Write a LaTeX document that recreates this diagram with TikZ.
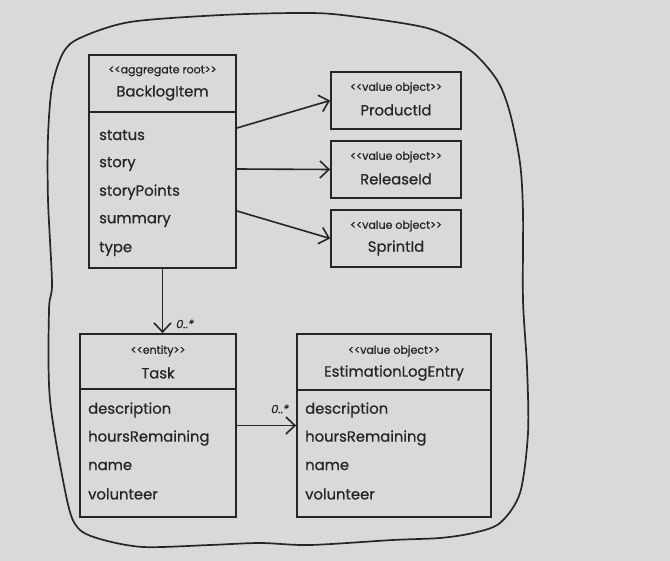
\documentclass[tikz,border=0pt]{standalone}
\usepackage{fontspec}
\setmainfont{Poppins}
\newfontfamily\handfont{Poppins}[FakeBold=0.7]
\usetikzlibrary{arrows.meta}
\definecolor{bg}{HTML}{D9D9D9}
\definecolor{ink}{HTML}{262626}
\tikzset{
  umlbox/.style={draw=ink, line width=1.8pt, fill=bg, rectangle, inner sep=0pt},
  divider/.style={draw=ink, line width=1.8pt},
  stereo/.style={font=\handfont\fontsize{11}{13}\selectfont, text=ink, inner sep=0pt},
  title/.style={font=\handfont\fontsize{14.8}{17}\selectfont, text=ink, inner sep=0pt},
  attr/.style={font=\handfont\fontsize{14.8}{17}\selectfont, text=ink, inner sep=0pt, anchor=west},
  mult/.style={font=\handfont\itshape\fontsize{11.5}{13}\selectfont, text=ink, inner sep=0pt},
  assoc/.style={draw=ink, line width=1.6pt, -{Straight Barb[length=9pt,width=17pt,line width=1.6pt]}},
  boundary/.style={draw=ink, line width=1.7pt}
}
\begin{document}
\begin{tikzpicture}[x=1pt,y=-1pt]
\fill[bg] (0,0) rectangle (670,561);
\useasboundingbox (0,0) rectangle (670,561);
% aggregate boundary
\draw[boundary] plot[smooth cycle, tension=0.5] coordinates {
 (130,22) (222,15) (299,13) (342,15) (427,28) (470,50) (497,80) (510,113)
 (520,163) (523,213) (523,300) (527,367) (528,433) (520,493) (500,523)
 (473,533) (440,538) (393,540) (310,545) (260,543) (210,545) (143,547)
 (100,539) (78,528) (67,500) (50,400) (49,310) (52,283) (48,200) (48,137)
 (52,87) (63,53) (80,38)};
% BacklogItem
\node[umlbox, minimum width=147pt, minimum height=213pt] (bi) at (162.5,161.5) {};
\draw[divider] (bi.west |- 0,112) -- (bi.east |- 0,112);
\node[stereo] (bist) at (162.5,71) {<{}<aggregate root>{}>};
\node[title] (bitt) at (162.5,93) {BacklogItem};
\node[attr] (bia1) at (99,135) {status};
\node[attr] (bia2) at (99,164) {story};
\node[attr] (bia3) at (99,192) {storyPoints};
\node[attr] (bia4) at (99,221) {summary};
\node[attr] (bia5) at (99,249) {type};
% value objects
\node[umlbox, minimum width=130pt, minimum height=57pt] (pid) at (396,100.5) {};
\node[stereo] (pidst) at (396,88) {<{}<value object>{}>};
\node[title] (pidtt) at (396,110) {ProductId};
\node[umlbox, minimum width=130pt, minimum height=57pt] (rid) at (396,169.5) {};
\node[stereo] (ridst) at (396,157) {<{}<value object>{}>};
\node[title] (ridtt) at (396,179) {ReleaseId};
\node[umlbox, minimum width=130pt, minimum height=57pt] (sid) at (396,238.5) {};
\node[stereo] (sidst) at (396,226) {<{}<value object>{}>};
\node[title] (sidtt) at (396,248) {SprintId};
% Task
\node[umlbox, minimum width=156pt, minimum height=183pt] (task) at (158,425.5) {};
\draw[divider] (task.west |- 0,389) -- (task.east |- 0,389);
\node[stereo] (taskst) at (158,351) {<{}<entity>{}>};
\node[title] (tasktt) at (158,373) {Task};
\node[attr] (ta1) at (88,410) {description};
\node[attr] (ta2) at (88,438) {hoursRemaining};
\node[attr] (ta3) at (88,466) {name};
\node[attr] (ta4) at (88,494) {volunteer};
% EstimationLogEntry
\node[umlbox, minimum width=194pt, minimum height=183pt] (ele) at (394,425.5) {};
\draw[divider] (ele.west |- 0,390) -- (ele.east |- 0,390);
\node[stereo] (elest) at (394,351) {<{}<value object>{}>};
\node[title] (elett) at (394,373) {EstimationLogEntry};
\node[attr] (ea1) at (305,410) {description};
\node[attr] (ea2) at (305,438) {hoursRemaining};
\node[attr] (ea3) at (305,466) {name};
\node[attr] (ea4) at (305,494) {volunteer};
% associations
\draw[assoc] ([yshift=33.5pt]bi.east) -- (pid.west);
\draw[assoc] ([yshift=-7.5pt]bi.east) -- (rid.west);
\draw[assoc] ([yshift=-49.5pt]bi.east) -- (sid.west);
\draw[assoc] (bi.south) -- (bi.south |- task.north);
\draw[assoc] (task.east) -- (ele.west);
\node[mult] (m1) at (185,324) {0..*};
\node[mult] (m2) at (280,409) {0..*};
\end{tikzpicture}
\end{document}
